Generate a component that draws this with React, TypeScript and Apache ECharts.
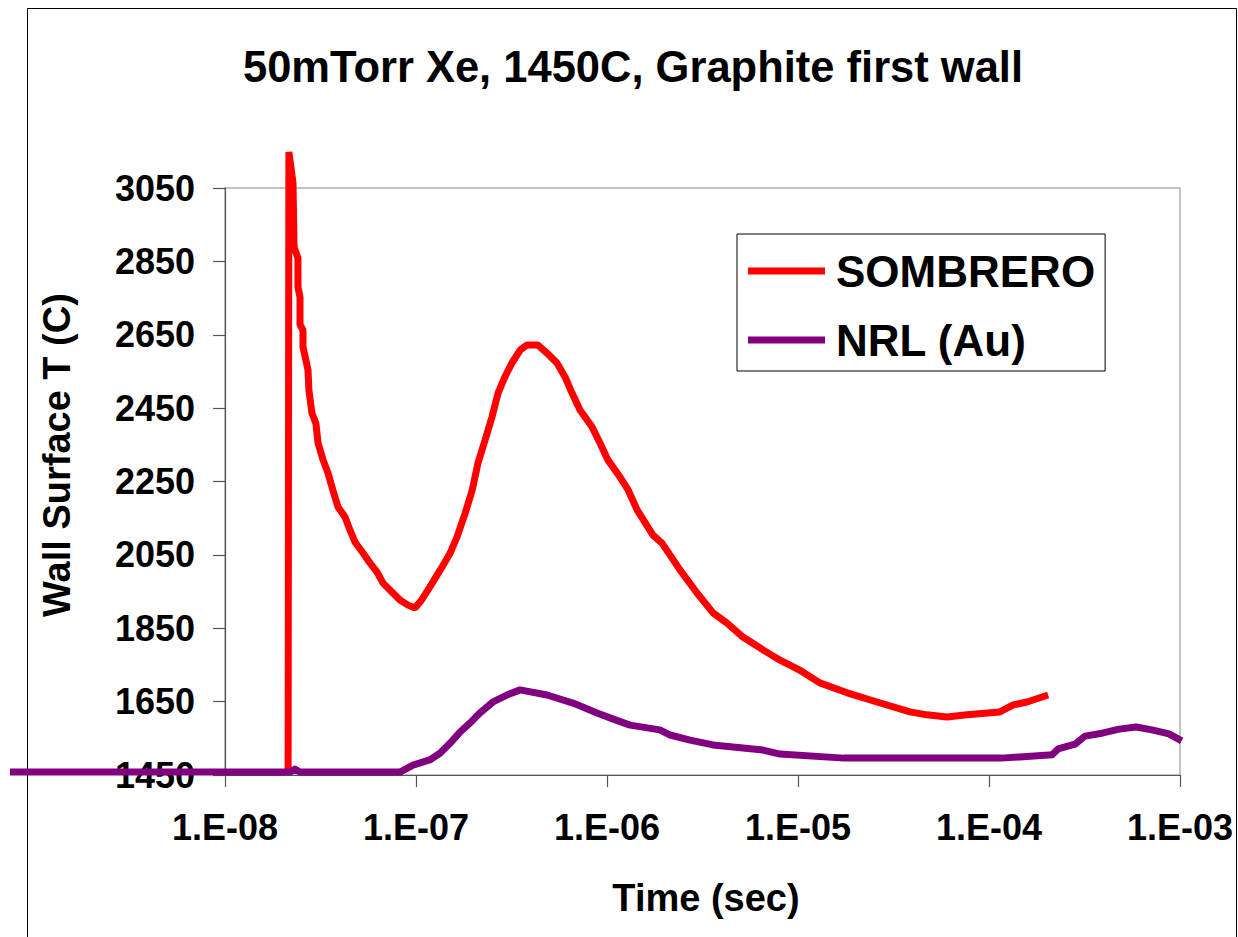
import React, { useEffect, useRef } from "react";
import * as echarts from "echarts";

const FONT = "'Liberation Sans', Arial, Helvetica, sans-serif";

const titleText = "50mTorr Xe, 1450C, Graphite first wall";
const xAxisTitle = "Time (sec)";
const yAxisTitle = "Wall Surface T (C)";
const seriesNames = ["SOMBRERO", "NRL (Au)"];
const yTickValues = [1450, 1650, 1850, 2050, 2250, 2450, 2650, 2850, 3050];

const sombreroTime = [
  2.14e-8, 2.16e-8, 2.27e-8, 2.3e-8, 2.41e-8, 2.41e-8, 2.47e-8, 2.47e-8, 2.56e-8, 2.56e-8,
  2.72e-8, 2.75e-8, 2.85e-8, 2.99e-8, 3.07e-8, 3.26e-8, 3.46e-8, 3.67e-8, 3.91e-8, 4.25e-8,
  4.51e-8, 4.79e-8, 5.28e-8, 5.74e-8, 6.25e-8, 6.72e-8, 7.48e-8, 8.24e-8, 9.08e-8, 9.88e-8,
  1.07e-7, 1.18e-7, 1.34e-7, 1.51e-7, 1.64e-7, 1.81e-7, 1.97e-7, 2.11e-7, 2.3e-7, 2.5e-7,
  2.69e-7, 2.92e-7, 3.18e-7, 3.51e-7, 3.81e-7, 4.35e-7, 4.85e-7, 5.47e-7, 6.03e-7, 6.56e-7,
  7.22e-7, 8.34e-7, 9.19e-7, 1.01e-6, 1.17e-6, 1.29e-6, 1.44e-6, 1.74e-6, 1.94e-6, 2.41e-6,
  2.96e-6, 3.59e-6, 4.25e-6, 5.15e-6, 6.56e-6, 8.05e-6, 1.02e-5, 1.3e-5, 1.81e-5, 2.59e-5,
  3.86e-5, 4.73e-5, 6.03e-5, 7.67e-5, 1.14e-4, 1.34e-4, 1.58e-4, 2.04e-4,
];
const sombreroTemp = [
  1458, 3148, 3064, 2889, 2859, 2780, 2753, 2677, 2663, 2617,
  2554, 2499, 2437, 2409, 2355, 2309, 2273, 2227, 2180, 2153,
  2118, 2085, 2055, 2028, 2003, 1973, 1949, 1927, 1913, 1905,
  1927, 1962, 2009, 2055, 2099, 2164, 2227, 2300, 2363, 2426,
  2491, 2535, 2573, 2608, 2622, 2622, 2600, 2573, 2535, 2491,
  2445, 2399, 2355, 2309, 2262, 2227, 2172, 2104, 2082, 2009,
  1946, 1892, 1864, 1826, 1791, 1763, 1736, 1701, 1674, 1649,
  1622, 1614, 1608, 1614, 1622, 1641, 1649, 1668,
];

const nrlTime = [
  7.48e-10, 2.19e-8, 2.32e-8, 2.47e-8, 8.24e-8, 9.64e-8, 1.18e-7, 1.34e-7, 1.51e-7, 1.7e-7,
  1.92e-7, 2.16e-7, 2.53e-7, 2.99e-7, 3.51e-7, 4.85e-7, 6.64e-7, 8.87e-7, 1.07e-6, 1.32e-6,
  1.89e-6, 2.14e-6, 2.72e-6, 3.59e-6, 6.56e-6, 8.05e-6, 1.74e-5, 1.16e-4, 2.14e-4, 2.3e-4,
  2.82e-4, 3.18e-4, 3.91e-4, 4.8e-4, 5.89e-4, 7.13e-4, 8.75e-4, 1.02e-3,
];
const nrlTemp = [
  1458, 1458, 1466, 1458, 1458, 1477, 1491, 1510, 1537, 1567,
  1592, 1619, 1649, 1668, 1682, 1668, 1646, 1619, 1603, 1586,
  1573, 1559, 1545, 1532, 1518, 1507, 1496, 1496, 1505, 1521,
  1534, 1556, 1564, 1575, 1581, 1573, 1562, 1543,
];

const zip = (a: number[], b: number[]) => a.map((v, i) => [v, b[i]]);

const RED = "#ff0000";
const PURPLE = "#800080";

export default function App() {
  const ref = useRef<HTMLDivElement>(null);
  useEffect(() => {
    document.body.style.margin = "0";
    if (!ref.current) return;
    const chart = echarts.init(ref.current, null, { renderer: "svg" });
    const axisColor = "#555555";
    const nrlData = zip(nrlTime, nrlTemp);
    chart.setOption({
      animation: false,
      backgroundColor: "#ffffff",
      grid: {
        left: 225,
        top: 188,
        right: 58,
        bottom: 162,
        show: true,
        borderColor: "#b0b0b0",
        borderWidth: 1.5,
        backgroundColor: "transparent",
      },
      xAxis: {
        type: "log",
        logBase: 10,
        min: 1e-8,
        max: 1e-3,
        axisLine: { show: true, lineStyle: { color: axisColor, width: 1.2 } },
        axisTick: { show: true, length: 12, inside: false, lineStyle: { color: axisColor, width: 1.2 } },
        splitLine: { show: false },
        minorTick: { show: false },
        axisLabel: {
          margin: 34,
          fontSize: 36,
          fontWeight: "bold",
          fontFamily: FONT,
          color: "#000",
          formatter: (v: number) => {
            const e = Math.round(Math.log10(v));
            const s = Math.abs(e).toString().padStart(2, "0");
            return "1.E" + (e < 0 ? "-" : "+") + s;
          },
        },
      },
      yAxis: {
        type: "value",
        min: 1450,
        max: 3050,
        axisLine: { show: true, lineStyle: { color: axisColor, width: 1.2 } },
        axisTick: { show: true, length: 12, customValues: yTickValues, lineStyle: { color: axisColor, width: 1.2 } },
        splitLine: { show: false },
        axisLabel: {
          customValues: yTickValues,
          margin: 30,
          fontSize: 36,
          fontWeight: "bold",
          fontFamily: FONT,
          color: "#000",
          formatter: (v: number) => String(v),
        },
      },
      legend: {
        orient: "vertical",
        left: 737,
        top: 234,
        padding: [12, 10, 6, 11],
        itemWidth: 77,
        itemHeight: 7,
        itemGap: 19,
        icon: "rect",
        borderColor: "#000",
        borderWidth: 1,
        backgroundColor: "#fff",
        data: [
          { name: seriesNames[0], itemStyle: { color: RED } },
          { name: seriesNames[1], itemStyle: { color: PURPLE } },
        ],
        textStyle: {
          fontSize: 44,
          fontWeight: "bold",
          fontFamily: FONT,
          color: "#000",
          lineHeight: 50,
          padding: [0, 0, 0, 6],
        },
      },
      series: [
        {
          name: seriesNames[0],
          type: "line",
          data: zip(sombreroTime, sombreroTemp),
          showSymbol: false,
          symbol: "none",
          clip: false,
          color: RED,
          itemStyle: { color: RED },
          lineStyle: { color: RED, width: 7 },
          z: 3,
        },
        {
          name: seriesNames[1],
          type: "custom",
          data: nrlData,
          encode: { x: 0, y: 1 },
          clip: false,
          color: PURPLE,
          itemStyle: { color: PURPLE },
          z: 4,
          renderItem: (params: any, api: any) => {
            if (params.dataIndex !== 0) return null;
            const pts = nrlData.map((d) => api.coord(d));
            return {
              type: "polyline",
              shape: { points: pts },
              style: { stroke: PURPLE, lineWidth: 7, fill: "none", lineJoin: "round" },
            };
          },
        },
      ],
      graphic: [
        {
          id: "border",
          type: "rect",
          shape: { x: 27.5, y: 8.5, width: 1209, height: 960 },
          style: { fill: "none", stroke: "#000", lineWidth: 1 },
          silent: true,
          z: -10,
        },
        {
          id: "title",
          type: "text",
          x: 633,
          y: 67,
          style: {
            text: titleText,
            textAlign: "center",
            textVerticalAlign: "middle",
            fontSize: 43.5,
            fontWeight: "bold",
            fontFamily: FONT,
            fill: "#000",
          },
        },
        {
          id: "xname",
          type: "text",
          x: 706,
          y: 898,
          style: {
            text: xAxisTitle,
            textAlign: "center",
            textVerticalAlign: "middle",
            fontSize: 38,
            fontWeight: "bold",
            fontFamily: FONT,
            fill: "#000",
          },
        },
        {
          id: "yname",
          type: "text",
          x: 57,
          y: 455,
          rotation: Math.PI / 2,
          style: {
            text: yAxisTitle,
            textAlign: "center",
            textVerticalAlign: "middle",
            fontSize: 38,
            fontWeight: "bold",
            fontFamily: FONT,
            fill: "#000",
          },
        },
      ],
    });
    return () => chart.dispose();
  }, []);
  return <div ref={ref} style={{ width: 1238, height: 937 }} />;
}
